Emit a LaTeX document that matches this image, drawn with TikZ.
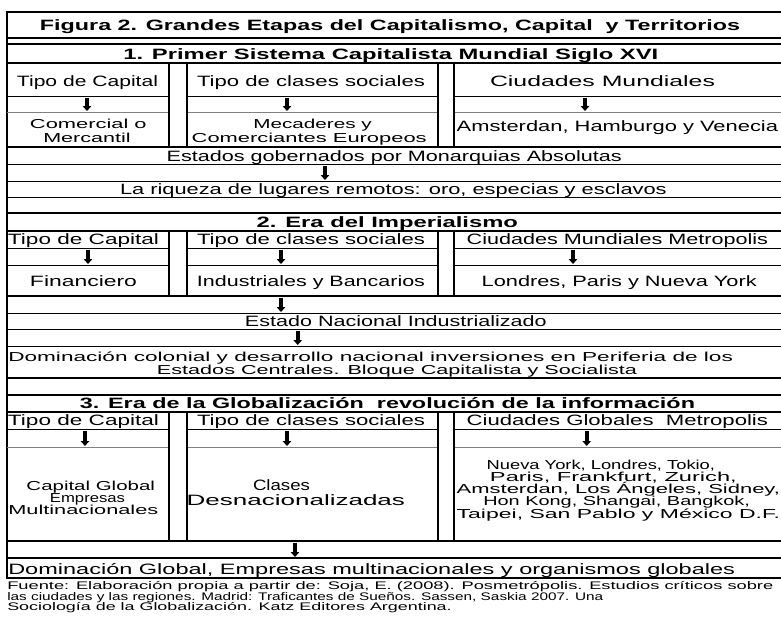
\documentclass[tikz,border=0pt]{standalone}
\usepackage{fontspec}
\setmainfont{Liberation Sans}
\usepackage{graphicx}
\usetikzlibrary{arrows.meta}
% text line fitted to a measured width: [style] name x1 x2 baseline text
\newcommand{\tl}[6][]{%
  \pgfmathsetmacro{\tlw}{#4-#3}%
  \pgfmathsetmacro{\tlc}{(#3+#4)/2}%
  \node[txt,#1] (#2) at (\tlc,#5) {\resizebox{\tlw pt}{\height}{#6}};}
% down arrow between two named coordinates
\newcommand{\darr}[4]{%
  \coordinate (#1a) at (#2,#3);
  \coordinate (#1b) at (#2,#4);
  \draw[arr] (#1a) -- (#1b);}
\begin{document}
\begin{tikzpicture}[x=1pt,y=-1pt,
  txt/.style={inner sep=0pt,anchor=base,yshift=-0.9pt,font=\fontsize{15}{14}\selectfont},
  ml/.style={yshift=0pt,font=\fontsize{13}{12}\selectfont},
  hb/.style={font=\fontsize{15}{14}\selectfont\bfseries},
  small/.style={yshift=0.4pt,font=\fontsize{11}{11}\selectfont},
  arr/.style={line width=3.6pt,-{Triangle[width=8.5pt,length=5pt]}},
  thk/.style={line width=2pt},
  thn/.style={line width=1pt}]
\useasboundingbox (0,0) rectangle (781,629);
% full-width rules
\foreach \y/\w in {12/2,38/2,44/2,63/2,147/2,164/1,181/1,197/1,213/2,231/2,296/1.5,313/1,329/1,346/1,378/1.5,395/2,412/2,541/2,558/2,578/2}
  \draw[line width=\w pt] (5.5,\y) -- (781,\y);
% left border
\draw[thk] (6.5,11) -- (6.5,579);
% rules inside the three columns only
\foreach \y/\w/\c in {96/1/black,112/0.8/gray,248/1/black,265/1/black,429/1/black,447/0.7/gray}{
  \draw[line width=\w pt,draw=\c] (6.5,\y) -- (169,\y);
  \draw[line width=\w pt,draw=\c] (187,\y) -- (438,\y);
  \draw[line width=\w pt,draw=\c] (454,\y) -- (781,\y);}
% column separators
\foreach \a/\b in {63/147,231/296,412/541}
  \foreach \x in {169,187,438,454}
    \draw[thk] (\x,\a) -- (\x,\b);
% title and section heads
\tl[hb]{title}{40}{740}{29.5}{Figura 2. Grandes Etapas del Capitalismo, Capital\ \ y Territorios}
\tl[hb]{h1}{123.3}{658.3}{58.5}{1. Primer Sistema Capitalista Mundial Siglo XVI}
\tl[hb]{h2}{256.7}{518}{227}{2. Era del Imperialismo}
\tl[hb]{h3}{80}{695}{407.8}{3. Era de la Globalización\ \ revolución de la información}
% section 1
\tl{s1a}{17}{158}{85.5}{Tipo de Capital}
\tl{s1b}{197}{425}{85.5}{Tipo de clases sociales}
\tl{s1c}{490}{715}{85.5}{Ciudades Mundiales}
\tl[ml]{s1d}{30}{146.7}{128}{Comercial o}
\tl[ml]{s1e}{43.3}{130.7}{141.2}{Mercantil}
\tl[ml]{s1f}{253.3}{371.7}{128}{Mecaderes y}
\tl[ml]{s1g}{191.7}{426.7}{141.2}{Comerciantes Europeos}
\tl{s1h}{456.7}{778}{131}{Amsterdan, Hamburgo y Venecia}
\tl{s1i}{166.7}{621.7}{160.5}{Estados gobernados por Monarquias Absolutas}
\tl{s1j}{120}{666.7}{193.5}{La riqueza de lugares remotos: oro, especias y esclavos}
% section 2
\tl{s2a}{8}{159}{243.8}{Tipo de Capital}
\tl{s2b}{197}{425}{243.8}{Tipo de clases sociales}
\tl{s2c}{466.7}{768}{243.8}{Ciudades Mundiales Metropolis}
\tl{s2d}{30}{137}{286}{Financiero}
\tl{s2e}{197}{425}{286}{Industriales y Bancarios}
\tl{s2f}{481.7}{756.7}{286}{Londres, Paris y Nueva York}
\tl{s2g}{245}{546.7}{326}{Estado Nacional Industrializado}
\tl[ml]{s2h}{8.3}{733}{361}{Dominación colonial y desarrollo nacional inversiones en Periferia de los}
\tl[ml]{s2i}{157}{637}{373.8}{Estados Centrales. Bloque Capitalista y Socialista}
% section 3
\tl{s3a}{8}{159}{424.5}{Tipo de Capital}
\tl{s3b}{197}{425}{424.5}{Tipo de clases sociales}
\tl{s3c}{466.7}{768}{424.5}{Ciudades Globales\ \ Metropolis}
\tl[ml]{s3d}{26.5}{155}{489.5}{Capital Global}
\tl[ml]{s3e}{50}{125}{501.5}{Empresas}
\tl[ml]{s3f}{8.3}{158.3}{513.5}{Multinacionales}
\tl{s3g}{253}{310}{489.5}{Clases}
\tl{s3h}{186.7}{405}{504.5}{Desnacionalizadas}
\tl[ml]{c1}{486.7}{715}{468.5}{Nueva York, Londres, Tokio,}
\tl[ml]{c2}{490}{736.7}{480.5}{Paris, Frankfurt, Zurich,}
\tl[ml]{c3}{456.7}{780}{492.5}{Amsterdan, Los Ángeles, Sidney,}
\tl[ml]{c4}{483.3}{750}{505}{Hon Kong, Shangai, Bangkok,}
\tl[ml]{c5}{456.7}{780}{517.5}{Taipei, San Pablo y México D.F.}
\tl{s3j}{8.3}{735}{573.5}{Dominación Global, Empresas multinacionales y organismos globales}
% source
\tl[small]{f1}{7.3}{773.3}{588.5}{Fuente: Elaboración propia a partir de: Soja, E. (2008). Posmetrópolis. Estudios críticos sobre}
\tl[small]{f2}{7.3}{603.3}{599.5}{las ciudades y las regiones. Madrid: Traficantes de Sueños. Sassen, Saskia 2007. Una}
\tl[small]{f3}{7.3}{451.7}{610.2}{Sociología de la Globalización. Katz Editores Argentina.}
% arrows
\darr{a1}{87}{97.5}{111}
\darr{a2}{287}{97.5}{111}
\darr{a3}{585}{97.5}{111}
\darr{a4}{325}{165.5}{180}
\darr{a5}{88}{249.5}{264}
\darr{a6}{281}{249.5}{264}
\darr{a7}{573}{249.5}{264}
\darr{a8}{281}{297.5}{312}
\darr{a9}{297.7}{330.5}{345}
\darr{a10}{85}{430.5}{446}
\darr{a11}{287}{430.5}{446}
\darr{a12}{586.7}{430.5}{446}
\darr{a13}{295}{542.5}{557}
\end{tikzpicture}
\end{document}
